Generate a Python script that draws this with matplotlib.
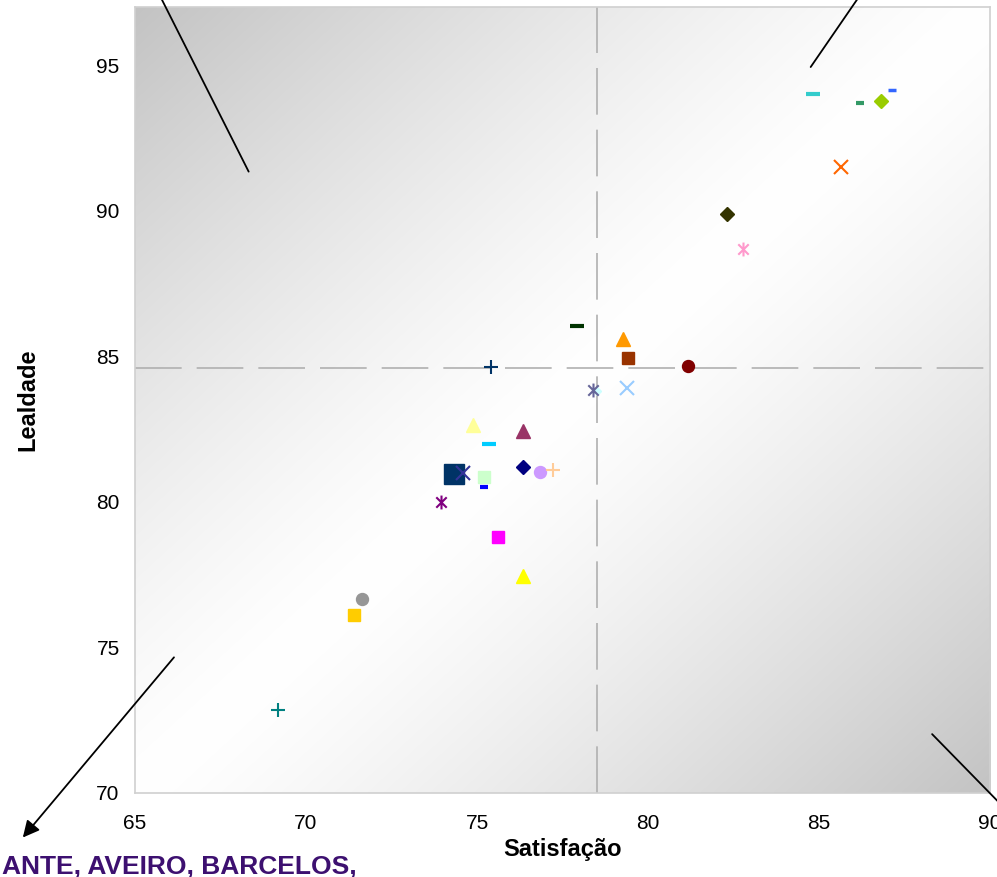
import numpy as np
import matplotlib
matplotlib.use('Agg')
import matplotlib.pyplot as plt
from matplotlib.path import Path

plt.rcParams['font.family'] = ['Liberation Sans', 'DejaVu Sans']

# satisfaction (x) and loyalty (y) per point
satisfacao = [84.82, 86.2, 86.8, 87.13, 85.64, 82.3, 82.78,
              77.92, 79.27, 79.42, 81.17, 75.4, 78.5, 78.39, 79.39,
              74.88, 76.35, 75.35, 74.33, 74.6, 75.2, 75.2, 76.35,
              76.84, 77.22, 73.95, 75.6, 76.35, 71.64, 71.4, 69.18]
lealdade = [94.0, 93.7, 93.77, 94.14, 91.5, 89.9, 88.7,
            86.05, 85.6, 84.95, 84.68, 84.64, 83.8, 83.85, 83.9,
            82.65, 82.45, 82.0, 80.97, 81.0, 80.84, 80.5, 81.2,
            81.04, 81.08, 79.98, 78.78, 77.44, 76.65, 76.1, 72.85]

media_satisfacao = 78.5
media_lealdade = 84.6

# asterisk marker (x + vertical bar)
ast = Path([(0, -1), (0, 1), (-0.75, -0.75), (0.75, 0.75), (-0.75, 0.75), (0.75, -0.75)],
           [Path.MOVETO, Path.LINETO, Path.MOVETO, Path.LINETO, Path.MOVETO, Path.LINETO])

markers = ['_', '_', 'D', '_', 'x', 'D', ast,
           '_', '^', 's', 'o', '+', 'D', ast, 'x',
           '^', '^', '_', 's', 'x', 's', '_', 'D',
           'o', '+', ast, 's', '^', 'o', 's', '+']
colors = ['#33CCCC', '#339966', '#99CC00', '#3366FF', '#FF6600', '#333300', '#FF99CC',
          '#003300', '#FF9900', '#993300', '#800000', '#003366', '#CCFFFF', '#666699', '#99CCFF',
          '#FFFF99', '#993366', '#00CCFF', '#003366', '#333399', '#CCFFCC', '#0000FF', '#000080',
          '#CC99FF', '#FFCC99', '#800080', '#FF00FF', '#FFFF00', '#969696', '#FFCC00', '#008080']
sizes = [10, 6, 7, 6, 10, 7, 10,
         10, 10, 8.5, 8.6, 10, 4, 10, 10,
         10, 10, 10, 14.5, 10, 8.5, 6, 7,
         8.6, 10, 10, 8.5, 10, 8.6, 8.5, 10]
mews = [3, 3, 1, 2.5, 1.5, 1, 1.5,
        3, 1, 1, 1, 1.5, 1, 1.5, 1.5,
        1, 1, 3, 1, 1.5, 1, 3, 1,
        1, 1.5, 1.5, 1, 1, 1, 1, 1.5]

fig = plt.figure(figsize=(9.97, 8.77), dpi=100)
ax = fig.add_axes([0.1354, 0.0958, 0.8576, 0.8962])
ax.set_xlim(65, 90)
ax.set_ylim(70, 97)

# diagonal gradient background
u, v = np.meshgrid(np.linspace(0, 1, 400), np.linspace(1, 0, 400))
shade = 1 - 0.235 * np.abs(u - v) ** 1.3
ax.imshow(np.dstack([shade, shade, shade]), extent=[0, 1, 0, 1], transform=ax.transAxes,
          aspect='auto', zorder=0, interpolation='bilinear')

ax.axvline(media_satisfacao, color='#B0B0B0', lw=1.2, dashes=(28, 9), zorder=1)
ax.axhline(media_lealdade, color='#B0B0B0', lw=1.2, dashes=(28, 9), zorder=1)

for i in range(len(satisfacao)):
    m = markers[i]
    if m in ['_', '+', 'x'] or m is ast:
        ax.plot(satisfacao[i], lealdade[i], marker=m, ms=sizes[i], color=colors[i],
                mew=mews[i], ls='none', zorder=3)
    else:
        ax.plot(satisfacao[i], lealdade[i], marker=m, ms=sizes[i], color=colors[i],
                mec=colors[i], ls='none', zorder=3)

# quadrant pointers
ax.annotate('', xy=(65.53, 97.85), xytext=(68.36, 91.26), annotation_clip=False,
            arrowprops=dict(arrowstyle='-', color='black', lw=1.3))
ax.annotate('', xy=(86.46, 97.85), xytext=(84.71, 94.86), annotation_clip=False,
            arrowprops=dict(arrowstyle='-', color='black', lw=1.3))
ax.annotate('', xy=(90.79, 69.04), xytext=(88.25, 72.09), annotation_clip=False,
            arrowprops=dict(arrowstyle='-', color='black', lw=1.3))
ax.annotate('', xy=(61.72, 68.47), xytext=(66.14, 74.66), annotation_clip=False,
            arrowprops=dict(arrowstyle='-|>', color='black', lw=1.3, mutation_scale=25,
                            shrinkA=0, shrinkB=0))

ax.set_xticks([65, 70, 75, 80, 85, 90])
ax.set_yticks([70, 75, 80, 85, 90, 95])
ax.tick_params(length=0, labelsize=15)
ax.tick_params(axis='x', pad=15)
ax.tick_params(axis='y', pad=11)
for s in ax.spines.values():
    s.set_color('#D0D0D0')
    s.set_linewidth(1.2)

ax.set_xlabel('Satisfação', fontsize=17, fontweight='bold', labelpad=4)
ax.set_ylabel('Lealdade', fontsize=17, fontweight='bold', labelpad=41)

fig.text(0.002, 0.0034, 'ANTE, AVEIRO, BARCELOS,', fontsize=19, fontweight='bold',
         color='#3D1070', family=['Liberation Sans Narrow', 'Liberation Sans'], va='baseline')

fig.savefig('out.png', dpi=100)
